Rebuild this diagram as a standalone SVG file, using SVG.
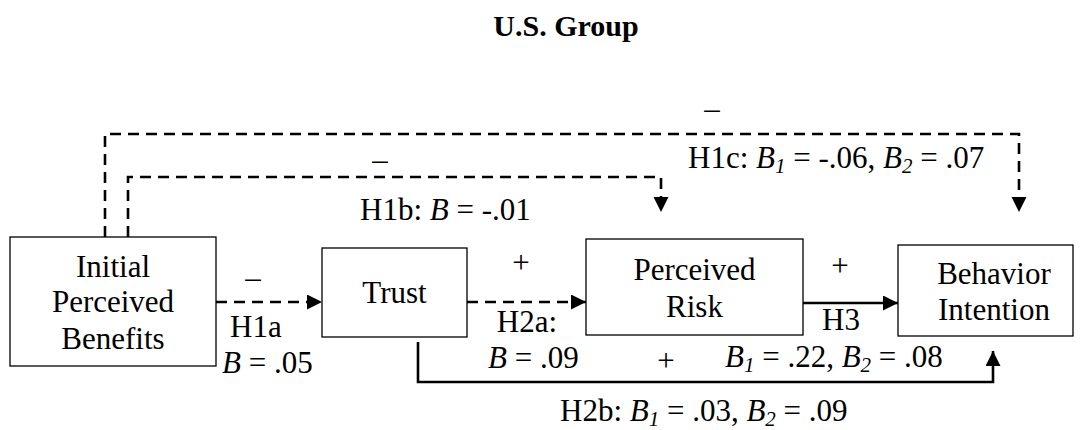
<svg xmlns="http://www.w3.org/2000/svg" width="1083" height="430" viewBox="0 0 1083 430">
<style>
.box{fill:#fff;stroke:#000;stroke-width:1.3}
.d{fill:none;stroke:#000;stroke-width:2.6;stroke-dasharray:11 7}
.l{fill:none;stroke:#000;stroke-width:2.6}
</style>
<defs>
<marker id="ah" markerUnits="userSpaceOnUse" markerWidth="16" markerHeight="16" refX="15" refY="7.5" orient="auto">
<path d="M0,0 L15,7.5 L0,15 z" fill="#000"/>
</marker>
</defs>
<text x="566" y="36" text-anchor="middle" font-family="Liberation Serif, serif" font-weight="bold" font-size="30">U.S. Group</text>
<g id="connectors">
<path class="d" d="M105,237 V134 H1019 V212" marker-end="url(#ah)"/>
<path class="d" d="M128,237 V177 H661 V212" marker-end="url(#ah)"/>
<path class="d" d="M216,302 H322" marker-end="url(#ah)"/>
<path class="d" d="M467,302 H586" marker-end="url(#ah)"/>
<path class="l" d="M803,303 H898" marker-end="url(#ah)"/>
<path class="l" d="M418,342 V382 H993 V351" marker-end="url(#ah)"/>
</g>
<g id="labels" font-family="Liberation Serif, serif" font-size="31">
<text x="712" y="119" text-anchor="middle">–</text>
<text x="688" y="168">H1c: <tspan font-style="italic">B</tspan><tspan font-style="italic" font-size="21" dy="5">1</tspan><tspan dy="-5"> = -.06, </tspan><tspan font-style="italic">B</tspan><tspan font-style="italic" font-size="21" dy="5">2</tspan><tspan dy="-5"> = .07</tspan></text>
<text x="380" y="170" text-anchor="middle">–</text>
<text x="360" y="220">H1b: <tspan font-style="italic">B</tspan> = -.01</text>
<text x="253" y="288" text-anchor="middle">–</text>
<text x="230" y="337">H1a</text>
<text x="222" y="373"><tspan font-style="italic">B</tspan> = .05</text>
<text x="521" y="273" text-anchor="middle">+</text>
<text x="527" y="332" text-anchor="middle">H2a:</text>
<text x="488" y="368"><tspan font-style="italic">B</tspan> = .09</text>
<text x="666" y="371" text-anchor="middle">+</text>
<text x="840" y="276" text-anchor="middle">+</text>
<text x="841" y="330" text-anchor="middle">H3</text>
<text x="725" y="367"><tspan font-style="italic">B</tspan><tspan font-style="italic" font-size="21" dy="5">1</tspan><tspan dy="-5"> = .22, </tspan><tspan font-style="italic">B</tspan><tspan font-style="italic" font-size="21" dy="5">2</tspan><tspan dy="-5"> = .08</tspan></text>
<text x="560" y="421">H2b: <tspan font-style="italic">B</tspan><tspan font-style="italic" font-size="21" dy="5">1</tspan><tspan dy="-5"> = .03, </tspan><tspan font-style="italic">B</tspan><tspan font-style="italic" font-size="21" dy="5">2</tspan><tspan dy="-5"> = .09</tspan></text>
</g>
<g id="node-ipb" font-family="Liberation Serif, serif" font-size="31" text-anchor="middle">
<rect class="box" x="10" y="237" width="206" height="129"/>
<text x="113" y="277">Initial</text>
<text x="113" y="312">Perceived</text>
<text x="113" y="349">Benefits</text>
</g>
<g id="node-trust" font-family="Liberation Serif, serif" font-size="31" text-anchor="middle">
<rect class="box" x="322" y="248" width="145" height="89"/>
<text x="394.5" y="303">Trust</text>
</g>
<g id="node-risk" font-family="Liberation Serif, serif" font-size="31" text-anchor="middle">
<rect class="box" x="586" y="239" width="217" height="96"/>
<text x="694.5" y="280">Perceived</text>
<text x="694.5" y="317">Risk</text>
</g>
<g id="node-bi" font-family="Liberation Serif, serif" font-size="31" text-anchor="middle">
<rect class="box" x="898" y="245" width="175" height="91"/>
<text x="994" y="284">Behavior</text>
<text x="994" y="320">Intention</text>
</g>
</svg>
